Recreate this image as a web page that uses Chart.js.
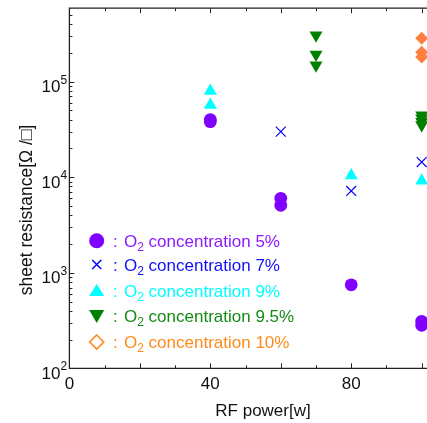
<!DOCTYPE html>
<html>
<head>
<meta charset="UTF-8">
<title>Sheet resistance vs RF power</title>
<script src="https://cdn.jsdelivr.net/npm/chart.js@4"></script>
<style>
  html, body { margin: 0; padding: 0; background: #ffffff; overflow: hidden; }
  canvas { display: block; }
</style>
</head>
<body>
<canvas id="chart" width="460" height="423"></canvas>
<script>
// O2 concentration series: RF power [W] and sheet resistance [ohm/sq]
const power5 = [40, 40, 60, 60, 80, 100, 100];
const res5 = [40100, 38200, 6010, 5080, 748, 310, 282];
const power7 = [60, 80, 100];
const res7 = [30000, 7190, 14400];
const power9 = [40, 40, 80, 100];
const res9 = [79800, 57000, 10400, 9200];
const power95 = [70, 70, 70, 100, 100, 100, 100];
const res95 = [306000, 193000, 149000, 44600, 41500, 38100, 35300];
const power10 = [100, 100, 100];
const res10 = [284000, 203000, 181000];

const concLabels = ['5%', '7%', '9%', '9.5%', '10%'];
const xTickLabels = [0, 40, 80];
const yDecades = [100, 1000, 10000, 100000];

const colors = ['#8000ff', '#0000ff', '#00ffff', '#008000', '#ff8040'];
const textColors = ['#8a1aff', '#1010ff', '#00ffff', '#158a15', '#ff8a1a'];
const FONT = '"Liberation Sans", Arimo, Arial, sans-serif';

function pts(xs, ys) { return xs.map((x, i) => ({ x: x, y: ys[i] })); }

// frame, inward ticks, tick labels and axis titles
const framePlugin = {
  id: 'frame',
  afterDraw(chart) {
    const ctx = chart.ctx, a = chart.chartArea;
    const xs = chart.scales.x, ys = chart.scales.y;
    const L = xs.getPixelForValue(0), B = ys.getPixelForValue(100), T = a.top;
    ctx.save();
    ctx.strokeStyle = '#222';
    ctx.lineWidth = 1.3;
    ctx.beginPath();
    ctx.moveTo(chart.width, T); ctx.lineTo(L, T); ctx.lineTo(L, B); ctx.lineTo(chart.width, B);
    ctx.stroke();

    ctx.lineWidth = 1;
    ctx.beginPath();
    for (let v = 10; v <= 100; v += 10) {
      const px = Math.round(xs.getPixelForValue(v)) + 0.5;
      const len = v % 20 === 0 ? 5 : 3;
      ctx.moveTo(px, B); ctx.lineTo(px, B - len);
      ctx.moveTo(px, T); ctx.lineTo(px, T + len);
    }
    for (let d = 100; d <= 100000; d *= 10) {
      for (let m = 1; m <= 9; m++) {
        const v = d * m;
        if (v > ys.max) break;
        const py = Math.round(ys.getPixelForValue(v)) + 0.5;
        ctx.moveTo(L, py); ctx.lineTo(L + (m === 1 ? 5 : 3), py);
      }
    }
    ctx.stroke();

    ctx.fillStyle = '#111';
    ctx.font = '17px ' + FONT;
    ctx.textAlign = 'center';
    ctx.textBaseline = 'alphabetic';
    xTickLabels.forEach(v => ctx.fillText(String(v), xs.getPixelForValue(v), 388.5));

    yDecades.forEach(v => {
      const py = ys.getPixelForValue(v);
      ctx.font = '17px ' + FONT;
      ctx.textAlign = 'right';
      ctx.fillText('10', 60.5, py + 10.5);
      ctx.font = '12px ' + FONT;
      ctx.textAlign = 'left';
      ctx.fillText(String(Math.round(Math.log10(v))), 60.5, py + 2);
    });

    ctx.font = '17px ' + FONT;
    ctx.textAlign = 'center';
    ctx.fillText('RF power[w]', 263, 415.5);

    ctx.save();
    ctx.translate(32, 210);
    ctx.rotate(-Math.PI / 2);
    ctx.font = '17.5px ' + FONT;
    ctx.fillText('sheet resistance[\u03A9 /\u25A1]', 0, 0);
    ctx.restore();
    ctx.restore();
  }
};

// in-plot legend with subscripted O2
const legendPlugin = {
  id: 'o2legend',
  afterDraw(chart) {
    const ctx = chart.ctx;
    const rows = [240.7, 264.5, 290.5, 316, 342];
    const mx = 96.7;
    ctx.save();
    concLabels.forEach((lab, i) => {
      const y = rows[i];
      ctx.fillStyle = colors[i];
      ctx.strokeStyle = colors[i];
      ctx.beginPath();
      if (i === 0) {
        ctx.arc(mx, y, 7.5, 0, Math.PI * 2); ctx.fill();
      } else if (i === 1) {
        ctx.lineWidth = 1.5;
        ctx.moveTo(mx - 4.5, y - 4.5); ctx.lineTo(mx + 4.5, y + 4.5);
        ctx.moveTo(mx + 4.5, y - 4.5); ctx.lineTo(mx - 4.5, y + 4.5);
        ctx.stroke();
      } else if (i === 2) {
        ctx.moveTo(mx, y - 6.5); ctx.lineTo(mx + 7.5, y + 5.5); ctx.lineTo(mx - 7.5, y + 5.5);
        ctx.closePath(); ctx.fill();
      } else if (i === 3) {
        ctx.moveTo(mx - 7.5, y - 6); ctx.lineTo(mx + 7.5, y - 6); ctx.lineTo(mx, y + 7);
        ctx.closePath(); ctx.fill();
      } else {
        ctx.strokeStyle = '#ff8a1a';
        ctx.lineWidth = 1.6;
        ctx.moveTo(mx, y - 7); ctx.lineTo(mx + 7, y); ctx.lineTo(mx, y + 7); ctx.lineTo(mx - 7, y);
        ctx.closePath(); ctx.stroke();
      }
      ctx.fillStyle = textColors[i];
      ctx.textAlign = 'left';
      ctx.textBaseline = 'alphabetic';
      const base = y + 6;
      ctx.font = '17px ' + FONT;
      ctx.fillText(':', 113, base);
      let x = 124;
      ctx.fillText('O', x, base);
      x += ctx.measureText('O').width;
      ctx.font = '12px ' + FONT;
      ctx.fillText('2', x, base + 4);
      x += ctx.measureText('2').width;
      ctx.font = '17px ' + FONT;
      ctx.fillText(' concentration ' + lab, x, base);
    });
    ctx.restore();
  }
};

new Chart(document.getElementById('chart'), {
  type: 'scatter',
  data: {
    datasets: [
      { label: '5%', data: pts(power5, res5), pointStyle: 'circle', pointRadius: 6.4, backgroundColor: colors[0], borderWidth: 0 },
      { label: '7%', data: pts(power7, res7), pointStyle: 'crossRot', pointRadius: 7, borderColor: colors[1], borderWidth: 1.2 },
      { label: '9%', data: pts(power9, res9), pointStyle: 'triangle', pointRadius: 7.5, backgroundColor: colors[2], borderWidth: 0 },
      { label: '9.5%', data: pts(power95, res95), pointStyle: 'triangle', rotation: 180, pointRadius: 7.5, backgroundColor: colors[3], borderWidth: 0 },
      { label: '10%', data: pts(power10, res10), pointStyle: 'rectRot', pointRadius: 6.5, backgroundColor: colors[4], borderWidth: 0 }
    ]
  },
  options: {
    responsive: false,
    animation: false,
    events: [],
    layout: { padding: { left: 69.4, top: 7.3, right: 20.7, bottom: 54.7 } },
    plugins: { legend: { display: false }, tooltip: { enabled: false } },
    scales: {
      x: { type: 'linear', min: 0, max: 105, display: false },
      y: { type: 'logarithmic', min: 100, max: 587500, display: false }
    }
  },
  plugins: [framePlugin, legendPlugin]
});
</script>
</body>
</html>
